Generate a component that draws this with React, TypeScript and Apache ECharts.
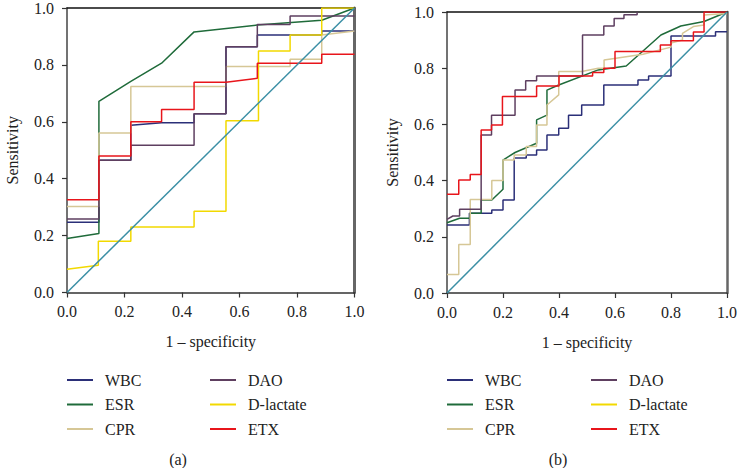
import React, { useEffect, useRef } from "react";
import * as echarts from "echarts";

type Pt = [number, number];

// ---------- Panel (a) ROC points: [1 - specificity, sensitivity] ----------
const wbcA: Pt[] = [[0,0.247],[0.111,0.247],[0.111,0.465],[0.222,0.465],[0.222,0.588],[0.329,0.597],[0.442,0.597],[0.442,0.628],[0.553,0.628],[0.553,0.864],[0.662,0.864],[0.662,0.905],[0.886,0.905],[0.886,0.919],[1,0.919]];
const esrA: Pt[] = [[0,0.19],[0.111,0.207],[0.111,0.672],[0.222,0.742],[0.329,0.806],[0.442,0.916],[0.662,0.94],[0.886,0.957],[1,1]];
const cprA: Pt[] = [[0,0.302],[0.111,0.302],[0.111,0.561],[0.222,0.561],[0.222,0.724],[0.553,0.724],[0.553,0.794],[0.776,0.794],[0.776,0.82],[0.886,0.82],[0.886,0.905],[1,0.919]];
const daoA: Pt[] = [[0,0.258],[0.111,0.258],[0.111,0.465],[0.222,0.465],[0.222,0.518],[0.442,0.518],[0.442,0.628],[0.553,0.628],[0.553,0.864],[0.662,0.864],[0.662,0.942],[0.776,0.942],[0.776,0.972],[1,0.972]];
const dlacA: Pt[] = [[0,0.082],[0.109,0.096],[0.109,0.18],[0.222,0.18],[0.222,0.23],[0.442,0.23],[0.442,0.286],[0.553,0.286],[0.553,0.604],[0.666,0.604],[0.666,0.849],[0.776,0.849],[0.776,0.905],[0.886,0.905],[0.886,1],[1,1]];
const etxA: Pt[] = [[0,0.326],[0.111,0.326],[0.111,0.48],[0.222,0.48],[0.222,0.6],[0.329,0.6],[0.329,0.643],[0.442,0.643],[0.442,0.739],[0.553,0.739],[0.662,0.753],[0.662,0.806],[0.886,0.806],[0.886,0.837],[1,0.837]];

// ---------- Panel (b) ROC points ----------
const wbcB: Pt[] = [[0,0.242],[0.08,0.242],[0.08,0.284],[0.16,0.284],[0.16,0.295],[0.2,0.295],[0.2,0.331],[0.24,0.331],[0.24,0.48],[0.283,0.48],[0.283,0.491],[0.32,0.491],[0.32,0.509],[0.357,0.509],[0.357,0.562],[0.399,0.562],[0.399,0.586],[0.434,0.586],[0.434,0.633],[0.481,0.633],[0.481,0.669],[0.56,0.669],[0.56,0.74],[0.682,0.74],[0.682,0.758],[0.72,0.758],[0.72,0.772],[0.8,0.772],[0.8,0.915],[0.959,0.915],[0.959,0.93],[1,0.93]];
const esrB: Pt[] = [[0,0.25],[0.045,0.266],[0.083,0.266],[0.083,0.284],[0.122,0.284],[0.122,0.331],[0.16,0.331],[0.2,0.369],[0.2,0.473],[0.243,0.5],[0.32,0.533],[0.32,0.616],[0.357,0.633],[0.357,0.722],[0.399,0.74],[0.54,0.794],[0.64,0.808],[0.764,0.918],[0.835,0.95],[0.918,0.966],[1,1]];
const cprB: Pt[] = [[0,0.066],[0.042,0.066],[0.042,0.173],[0.083,0.173],[0.083,0.333],[0.16,0.333],[0.16,0.4],[0.2,0.4],[0.2,0.473],[0.24,0.473],[0.24,0.491],[0.283,0.491],[0.283,0.521],[0.32,0.521],[0.32,0.598],[0.357,0.598],[0.357,0.669],[0.399,0.705],[0.399,0.788],[0.481,0.788],[0.54,0.8],[0.561,0.8],[0.561,0.829],[0.7,0.85],[0.8,0.875],[0.8,0.89],[0.841,0.9],[0.841,0.924],[0.88,0.948],[0.918,0.954],[0.918,0.989],[1,0.995]];
const daoB: Pt[] = [[0,0.262],[0.021,0.274],[0.045,0.274],[0.045,0.298],[0.122,0.298],[0.122,0.562],[0.159,0.562],[0.159,0.633],[0.243,0.633],[0.243,0.722],[0.281,0.722],[0.281,0.755],[0.32,0.755],[0.32,0.772],[0.484,0.772],[0.484,0.918],[0.56,0.918],[0.56,0.95],[0.597,0.95],[0.597,0.977],[0.632,0.977],[0.632,0.99],[0.679,0.99],[0.679,1]];
const dlacB: Pt[] = [];
const etxB: Pt[] = [[0,0.351],[0.042,0.351],[0.042,0.402],[0.083,0.402],[0.083,0.422],[0.122,0.422],[0.122,0.58],[0.159,0.58],[0.159,0.598],[0.198,0.598],[0.198,0.699],[0.32,0.699],[0.32,0.737],[0.4,0.737],[0.4,0.772],[0.52,0.772],[0.52,0.785],[0.56,0.785],[0.56,0.8],[0.6,0.8],[0.6,0.859],[0.762,0.859],[0.762,0.883],[0.8,0.883],[0.8,0.898],[0.88,0.898],[0.88,0.929],[0.918,0.929],[0.918,1],[1,1]];

const diagonal: Pt[] = [[0,0],[1,1]];

const seriesNames = ["WBC", "ESR", "CPR", "DAO", "D-lactate", "ETX"];
const seriesColors = ["#2b2f78", "#1f6b3a", "#d6c796", "#5e3f60", "#f2d900", "#e8151b"];
const diagColor = "#3b8fa5";
const panelA = [wbcA, esrA, cprA, daoA, dlacA, etxA];
const panelB = [wbcB, esrB, cprB, daoB, dlacB, etxB];
const xName = "1 – specificity";
const yName = "Sensitivity";
const captions = ["(a)", "(b)"];

const FONT = "Liberation Serif";

export default function App() {
  const ref = useRef<HTMLDivElement>(null);
  useEffect(() => {
    if (!ref.current) return;
    const chart = echarts.init(ref.current, undefined, { renderer: "svg" });

    const grids = [
      { left: 67, top: 6, width: 287.5, height: 286.5 },
      { left: 447, top: 12, width: 283, height: 281 },
    ];

    const txt = { fontFamily: FONT, fontSize: 16, color: "#222" };

    const xAxes: any[] = [];
    const yAxes: any[] = [];
    [0, 1].forEach((g) => {
      xAxes.push({
        type: "value", gridIndex: g, min: 0, max: 1, interval: 0.2,
        axisLine: { lineStyle: { color: "#333", width: 1.5 } },
        axisTick: { length: 5, lineStyle: { color: "#333", width: 1.2 } },
        axisLabel: { ...txt, margin: 11, formatter: (v: number) => v.toFixed(1), showMaxLabel: true, showMinLabel: true },
        splitLine: { show: false },
        name: xName, nameLocation: "middle", nameGap: 41,
        nameTextStyle: { ...txt },
      });
      yAxes.push({
        type: "value", gridIndex: g, min: 0, max: 1, interval: 0.2,
        axisLine: { lineStyle: { color: "#444", width: 1.5 } },
        axisTick: { length: 5, lineStyle: { color: "#333", width: 1.2 } },
        axisLabel: { ...txt, margin: 13, formatter: (v: number) => v.toFixed(1) },
        splitLine: { show: false },
        name: yName, nameLocation: "middle", nameGap: 47,
        nameTextStyle: { ...txt },
      });
    });
    // frame: top and right lines
    [0, 1].forEach((g) => {
      xAxes.push({
        type: "value", gridIndex: g, min: 0, max: 1, position: "top",
        axisLine: { onZero: false, lineStyle: { color: "#111", width: 1.5 } },
        axisTick: { show: false }, axisLabel: { show: false }, splitLine: { show: false },
      });
      yAxes.push({
        type: "value", gridIndex: g, min: 0, max: 1, position: "right",
        axisLine: { onZero: false, lineStyle: { color: "#666", width: g === 0 ? 3 : 2.5 } },
        axisTick: { show: false }, axisLabel: { show: false }, splitLine: { show: false },
      });
    });

    const series: any[] = [];
    [panelA, panelB].forEach((panel, g) => {
      panel.forEach((data, i) => {
        series.push({
          type: "line", name: seriesNames[i], xAxisIndex: g, yAxisIndex: g,
          data, symbol: "none", color: seriesColors[i],
          lineStyle: { width: 1.5, color: seriesColors[i] },
        });
      });
      series.push({
        type: "line", name: "reference" + g, xAxisIndex: g, yAxisIndex: g,
        data: diagonal, symbol: "none", color: diagColor,
        lineStyle: { width: 1.5, color: diagColor },
      });
    });

    const legendBase = {
      orient: "vertical", icon: "rect", itemWidth: 26, itemHeight: 2,
      itemGap: 7.5, padding: 0, selectedMode: false,
      textStyle: { ...txt, lineHeight: 17, padding: [0, 0, 0, 7] },
    };
    const legends = [
      { ...legendBase, left: 67, top: 371.5, data: seriesNames.slice(0, 3) },
      { ...legendBase, left: 210, top: 371.5, data: seriesNames.slice(3) },
      { ...legendBase, left: 447, top: 371.5, data: seriesNames.slice(0, 3) },
      { ...legendBase, left: 591, top: 371.5, data: seriesNames.slice(3) },
    ];

    chart.setOption({
      animation: false,
      grid: grids,
      xAxis: xAxes,
      yAxis: yAxes,
      legend: legends,
      series,
      graphic: [
        { type: "text", x: 178, y: 459, style: { text: captions[0], fill: "#222", font: `16px "${FONT}"`, textAlign: "center", textVerticalAlign: "middle" } },
        { type: "text", x: 558, y: 459, style: { text: captions[1], fill: "#222", font: `16px "${FONT}"`, textAlign: "center", textVerticalAlign: "middle" } },
      ],
    });
    return () => chart.dispose();
  }, []);
  return (
    <div
      ref={ref}
      style={{ position: "fixed", left: 0, top: 0, width: 740, height: 468, background: "#fff" }}
    />
  );
}
